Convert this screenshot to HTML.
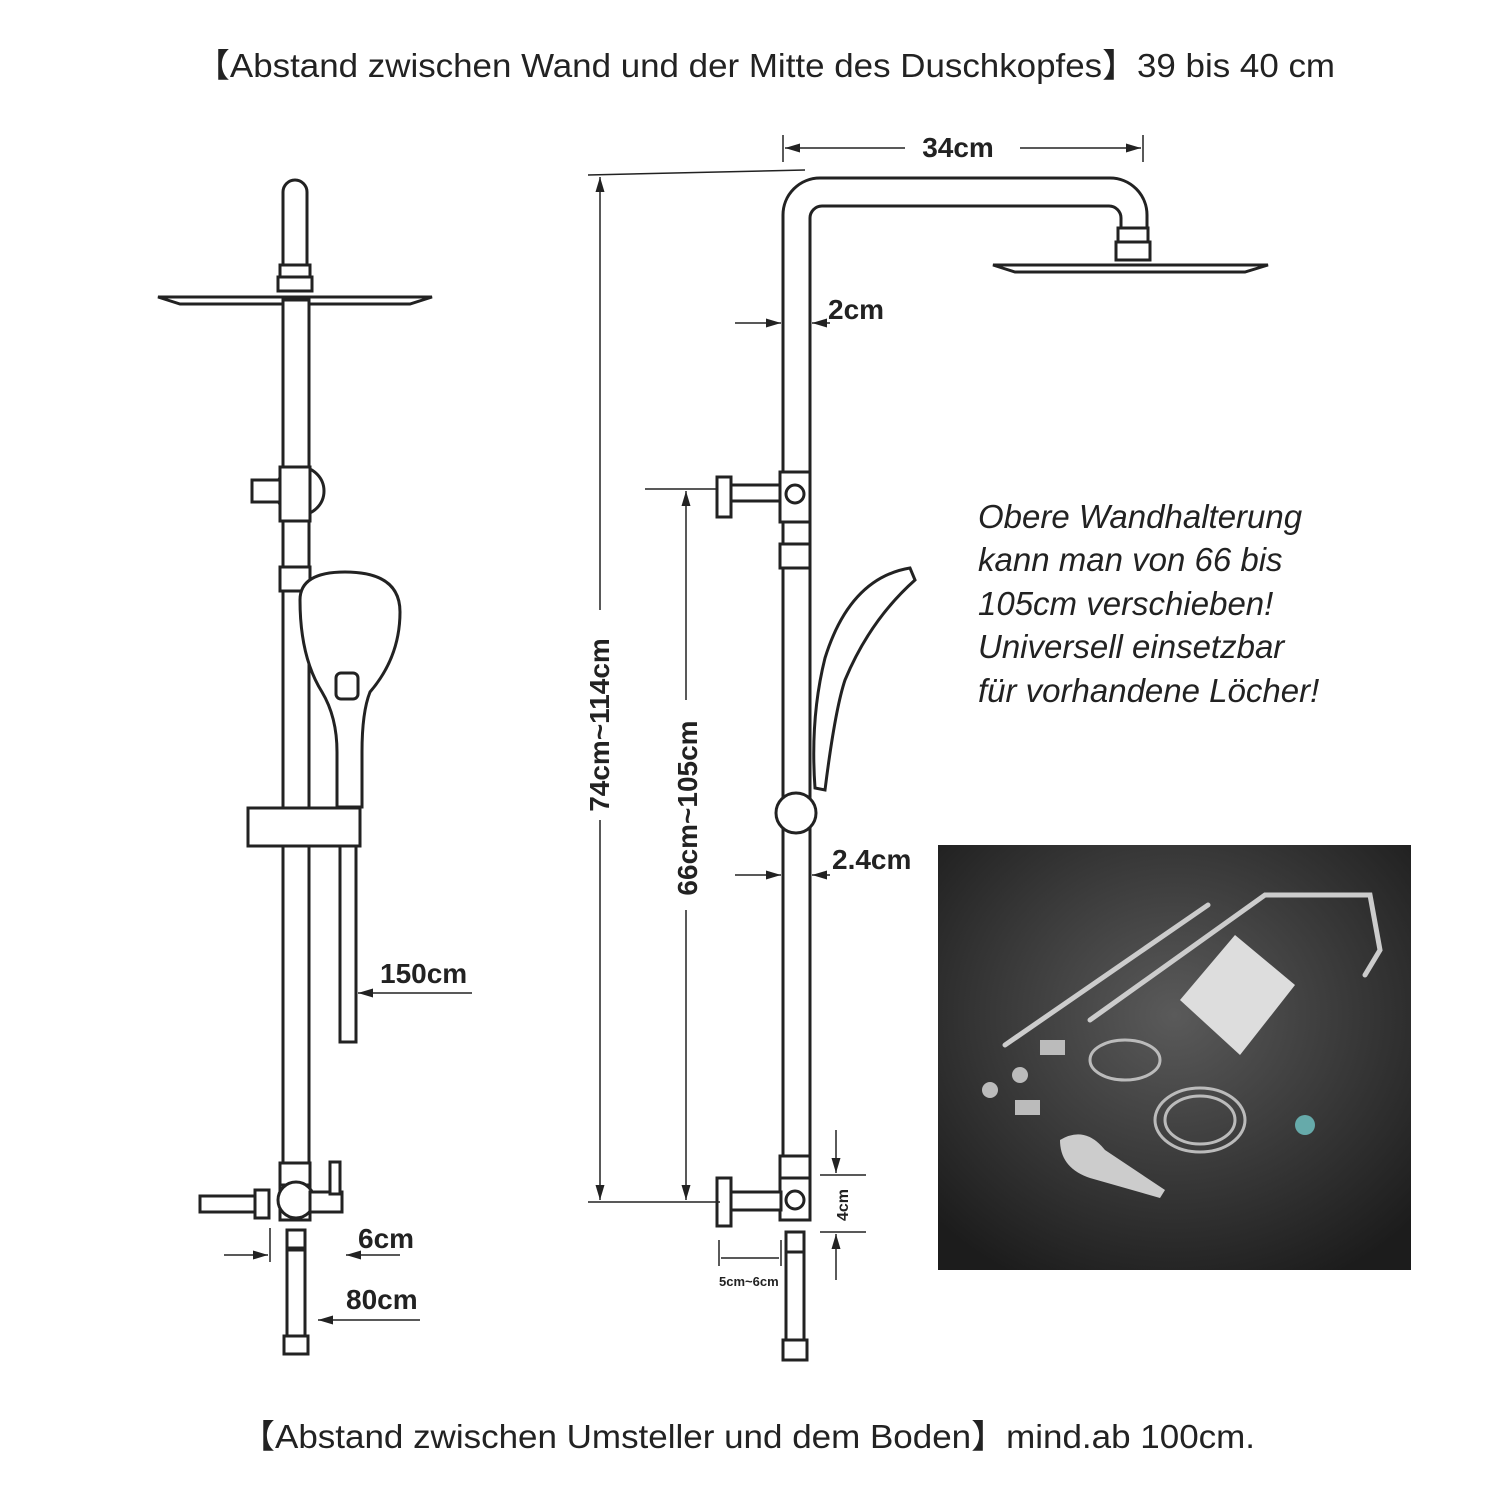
<!DOCTYPE html>
<html><head><meta charset="utf-8"><style>
body{margin:0;background:#fff}
svg{display:block}
text{font-family:"Liberation Sans","Noto Sans CJK SC",sans-serif;fill:#222}
.b{font-weight:bold;font-size:28px}
</style></head><body>
<svg width="1500" height="1500" viewBox="0 0 1500 1500" xmlns="http://www.w3.org/2000/svg">
<defs>
<radialGradient id="bg" cx="50%" cy="40%" r="70%"><stop offset="0" stop-color="#5a5a5a"/><stop offset="1" stop-color="#1c1c1c"/></radialGradient>
<marker id="ar" viewBox="0 0 10 10" refX="10" refY="5" markerWidth="10" markerHeight="10" orient="auto-start-reverse"><path d="M0,2 L10,5 L0,8z" fill="#222"/></marker>
</defs>
<text x="195" y="77" font-size="33" textLength="1140" lengthAdjust="spacingAndGlyphs">【Abstand zwischen Wand und der Mitte des Duschkopfes】39 bis 40 cm</text>
<text x="240" y="1448" font-size="33" textLength="1015" lengthAdjust="spacingAndGlyphs">【Abstand zwischen Umsteller und dem Boden】mind.ab 100cm.</text>

<g fill="#fff" stroke="#222" stroke-width="3">
<!-- LEFT shower -->
<path d="M283,265 V192 a12,12 0 0 1 24,0 V265z"/>
<rect x="280" y="265" width="30" height="12"/>
<rect x="278" y="277" width="34" height="14"/>
<path d="M158,297 L432,297 L410,304 L180,304z"/>
<rect x="283" y="300" width="26" height="870"/>
<circle cx="300" cy="491" r="24"/>
<rect x="252" y="480" width="30" height="22"/>
<rect x="280" y="467" width="30" height="54"/>
<rect x="280" y="567" width="30" height="24"/>
<path d="M300,600 q0,-28 45,-28 q55,0 55,40 q0,45 -30,80 q-8,20 -8,60 v55 h-25 v-55 q0,-35 -15,-60 q-22,-35 -22,-92z"/>
<rect x="336" y="673" width="22" height="26" rx="5"/>
<rect x="248" y="808" width="112" height="38"/>
<rect x="340" y="846" width="16" height="196"/>
<rect x="280" y="1163" width="30" height="22"/>
<rect x="280" y="1185" width="30" height="35"/>
<circle cx="296" cy="1200" r="18"/>
<rect x="200" y="1196" width="56" height="16"/>
<rect x="255" y="1190" width="14" height="28"/>
<rect x="310" y="1192" width="32" height="20"/>
<rect x="330" y="1162" width="10" height="32"/>
<rect x="287" y="1230" width="18" height="18"/>
<rect x="287" y="1250" width="18" height="90"/>
<rect x="284" y="1336" width="24" height="18"/>

<!-- RIGHT shower -->
<path d="M783,1160 V215 a37,37 0 0 1 37,-37 H1110 a37,37 0 0 1 37,37 V228 H1121 V218 a12,12 0 0 0 -12,-12 H822 a12,12 0 0 0 -12,12 V1160z"/>
<rect x="1118" y="228" width="30" height="14"/>
<rect x="1116" y="242" width="34" height="18"/>
<path d="M993,265 L1268,265 L1245,272 L1015,272z"/>
<rect x="717" y="477" width="14" height="40"/>
<rect x="731" y="485" width="50" height="16"/>
<rect x="780" y="472" width="30" height="50"/>
<circle cx="795" cy="494" r="9"/>
<rect x="780" y="544" width="30" height="24"/>
<path d="M910,568 q-60,10 -85,90 q-15,60 -10,130 l10,2 q10,-80 20,-110 q25,-60 70,-100z"/>
<circle cx="796" cy="813" r="20"/>
<rect x="780" y="1156" width="30" height="22"/>
<rect x="780" y="1178" width="30" height="42"/>
<circle cx="795" cy="1200" r="9"/>
<rect x="717" y="1178" width="14" height="48"/>
<rect x="731" y="1192" width="50" height="18"/>
<rect x="786" y="1232" width="18" height="20"/>
<rect x="786" y="1252" width="18" height="92"/>
<rect x="783" y="1340" width="24" height="20"/>
</g>

<!-- dimension lines -->
<g stroke="#222" stroke-width="1.5" fill="none">
<line x1="783" y1="135" x2="783" y2="162"/><line x1="1143" y1="135" x2="1143" y2="162"/>
<line x1="785" y1="148" x2="905" y2="148" marker-start="url(#ar)"/>
<line x1="1020" y1="148" x2="1141" y2="148" marker-end="url(#ar)"/>
<line x1="588" y1="175" x2="805" y2="170"/>
<line x1="600" y1="177" x2="600" y2="610" marker-start="url(#ar)"/>
<line x1="600" y1="820" x2="600" y2="1200" marker-end="url(#ar)"/>
<line x1="588" y1="1202" x2="720" y2="1202"/>
<line x1="645" y1="489" x2="717" y2="489"/>
<line x1="686" y1="491" x2="686" y2="700" marker-start="url(#ar)"/>
<line x1="686" y1="910" x2="686" y2="1200" marker-end="url(#ar)"/>
<line x1="735" y1="323" x2="781" y2="323" marker-end="url(#ar)"/>
<line x1="830" y1="323" x2="812" y2="323" marker-end="url(#ar)"/>
<line x1="735" y1="875" x2="781" y2="875" marker-end="url(#ar)"/>
<line x1="830" y1="875" x2="812" y2="875" marker-end="url(#ar)"/>
<line x1="472" y1="993" x2="358" y2="993" marker-end="url(#ar)"/>
<line x1="224" y1="1255" x2="268" y2="1255" marker-end="url(#ar)"/>
<line x1="270" y1="1228" x2="270" y2="1262"/>
<line x1="400" y1="1255" x2="346" y2="1255" marker-end="url(#ar)"/>
<line x1="420" y1="1320" x2="318" y2="1320" marker-end="url(#ar)"/>
<line x1="820" y1="1175" x2="866" y2="1175"/><line x1="820" y1="1232" x2="866" y2="1232"/>
<line x1="836" y1="1130" x2="836" y2="1173" marker-end="url(#ar)"/>
<line x1="836" y1="1280" x2="836" y2="1234" marker-end="url(#ar)"/>
<line x1="719" y1="1240" x2="719" y2="1266"/><line x1="781" y1="1240" x2="781" y2="1266"/>
<line x1="721" y1="1258" x2="779" y2="1258"/>
</g>
<text class="b" x="958" y="157" text-anchor="middle">34cm</text>
<text class="b" x="828" y="319">2cm</text>
<text class="b" x="832" y="869">2.4cm</text>
<text class="b" x="380" y="983">150cm</text>
<text class="b" x="358" y="1248">6cm</text>
<text class="b" x="346" y="1309">80cm</text>
<text x="719" y="1286" font-size="13" font-weight="bold">5cm~6cm</text>
<text class="b" transform="translate(609,725) rotate(-90)" text-anchor="middle">74cm~114cm</text>
<text class="b" transform="translate(697,808) rotate(-90)" text-anchor="middle">66cm~105cm</text>
<text transform="translate(848,1205) rotate(-90)" text-anchor="middle" font-size="16" font-weight="bold">4cm</text>
<g font-size="33" font-style="italic">
<text x="978" y="528">Obere Wandhalterung</text>
<text x="978" y="571">kann man von 66 bis</text>
<text x="978" y="615">105cm verschieben!</text>
<text x="978" y="658">Universell einsetzbar</text>
<text x="978" y="702">für vorhandene Löcher!</text>
</g>

<!-- photo -->
<rect x="938" y="845" width="473" height="425" fill="url(#bg)"/>
<g stroke="#ccc" stroke-width="5" fill="none" stroke-linecap="round">
<line x1="1005" y1="1045" x2="1208" y2="905"/>
<path d="M1090,1020 L1265,895 L1370,895 L1380,950 L1365,975"/>
</g>
<polygon points="1180,1000 1235,935 1295,985 1240,1055" fill="#ddd"/>
<g stroke="#bbb" stroke-width="3" fill="none">
<ellipse cx="1125" cy="1060" rx="35" ry="20"/>
<ellipse cx="1200" cy="1120" rx="45" ry="32"/>
<ellipse cx="1200" cy="1120" rx="35" ry="24"/>
</g>
<path d="M1060,1140 q25,-15 45,10 l60,40 -5,8 -70,-20 q-30,-10 -30,-38z" fill="#ccc"/>
<circle cx="1305" cy="1125" r="10" fill="#6aa"/>
<g fill="#bbb"><circle cx="990" cy="1090" r="8"/><circle cx="1020" cy="1075" r="8"/><rect x="1015" y="1100" width="25" height="15"/><rect x="1040" y="1040" width="25" height="15"/></g>
</svg>
</body></html>
